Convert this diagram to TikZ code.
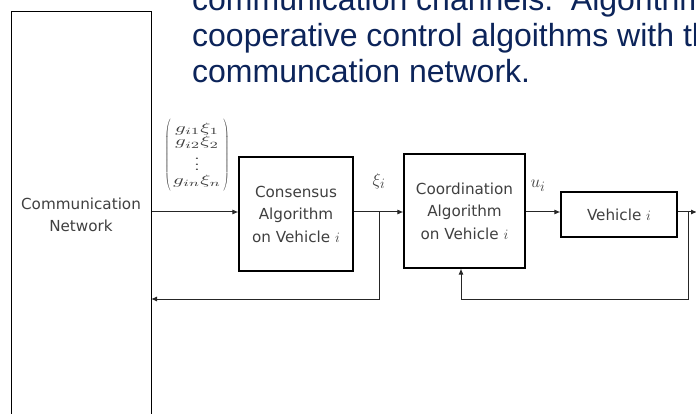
\documentclass[tikz,border=0pt]{standalone}
\usepackage{amsmath}
\usepackage[no-math]{fontspec}
\usetikzlibrary{arrows.meta,calc}
\newfontfamily\topfont{Liberation Sans}
\newfontfamily\diagfont{DejaVu Sans}
\definecolor{navy}{RGB}{12,36,90}
\definecolor{txtgray}{RGB}{64,64,64}
\tikzset{
  blockbox/.style={draw=black, line width=1.1pt, inner sep=0pt},
  blocktext/.style={text=txtgray, font=\diagfont\fontsize{15.2}{22.5}\selectfont, align=center, inner sep=0pt},
  toptext/.style={text=navy, font=\topfont\fontsize{32}{36}\selectfont, anchor=base west, inner sep=0pt},
  mathlabel/.style={text=txtgray, inner sep=0pt, font=\fontsize{19}{21}\selectfont},
  parenbox/.style={text=txtgray, inner sep=0pt},
  arr/.style={draw=black!85, line width=1pt, -{Latex[length=6pt,width=5pt]}},
  wire/.style={draw=black!85, line width=1pt}
}
\begin{document}
\begin{tikzpicture}[x=1pt,y=-1pt]
\useasboundingbox (0,0) rectangle (696,414);
\clip (0,0) rectangle (696,414);
\fill[white] (0,0) rectangle (696,414);
% top text
\node[toptext] (t1) at (192,11) {communication channels.\ \ Algorithm};
\node[toptext] (t2) at (192,47) {cooperative control algoithms with the};
\node[toptext] (t3) at (192,83) {communcation network.};
% blocks
\node[blockbox, minimum width=140pt, minimum height=420pt, anchor=north west] (net) at (11,11) {};
\node[blocktext] (nettext) at (81,215) {Communication\\Network};
\node[blockbox, minimum width=114pt, minimum height=114pt] (cons) at (296,214) {};
\node[blocktext] (constext) at (cons.center) {Consensus\\Algorithm\\on Vehicle $i$};
\node[blockbox, minimum width=121pt, minimum height=114pt] (coord) at (464.5,211) {};
\node[blocktext] (coordtext) at (coord.center) {Coordination\\Algorithm\\on Vehicle $i$};
\node[blockbox, minimum width=116pt, minimum height=45pt] (veh) at (619,214.5) {};
\node[blocktext] (vehtext) at (veh.center) {Vehicle $i$};
% vector label
\node[parenbox] (vec) at (197,155.5) {\resizebox*{48pt}{66pt}{\renewcommand{\arraystretch}{0.85}$\begin{matrix} g_{i1}\xi_1\\ g_{i2}\xi_2\\ \vdots\\ g_{in}\xi_n\end{matrix}$}};
\node[parenbox] (lpar) at (168,155.5) {\scalebox{0.7}[1]{$\left(\vrule height 35pt depth 35pt width 0pt\right.$}};
\node[parenbox] (rpar) at (226,155.5) {\scalebox{0.7}[1]{$\left.\vrule height 35pt depth 35pt width 0pt\right)$}};
\node[mathlabel] (xilab) at (379,181) {$\xi_i$};
\node[mathlabel] (uilab) at (538,186) {$u_i$};
% coordinates
\coordinate (m) at (0,212);
\coordinate (b1) at (379,212);
\coordinate (fb1) at (151,299);
\coordinate (b2) at (688,212);
\coordinate (fb2) at (461,299);
\coordinate (out) at (697,212);
% connectors
\draw[arr] (net.east |- m) -- (cons.west |- m);
\draw[arr] (cons.east |- m) -- (coord.west |- m);
\draw[arr] (b1) |- (fb1);
\draw[arr] (coord.east |- m) -- (veh.west |- m);
\draw[arr] (veh.east |- m) -- (out);
\draw[arr] (b2) |- (fb2) -- (coord.south -| fb2);
\end{tikzpicture}
\end{document}
